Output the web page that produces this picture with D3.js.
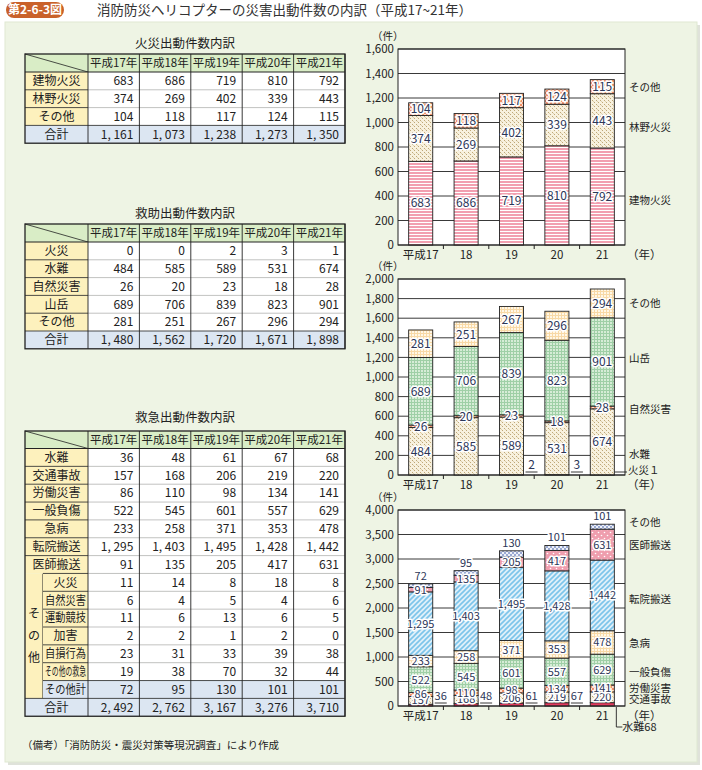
<!DOCTYPE html>
<html lang="ja">
<head>
<meta charset="UTF-8">
<title>消防防災ヘリコプターの災害出動件数の内訳</title>
<script src="https://cdn.jsdelivr.net/npm/d3@7"></script>
<style>
  body { margin: 0; background: #fff; }
  svg text { font-family: "Noto Sans CJK JP", "Noto Sans", sans-serif; fill: #222; }
  .tick { font-size: 11.5px; }
  .seg { font-size: 12px; fill: #2c3658; stroke: #fff; stroke-width: 3px; paint-order: stroke; stroke-linejoin: round; }
  .leg { font-size: 10.5px; }
  .cell { font-size: 12px; }
  .ttl { font-size: 12.5px; }
</style>
</head>
<body>
<script>
// 年
var years = ["平成17", "18", "19", "20", "21"];
var tableYears = ["平成17年", "平成18年", "平成19年", "平成20年", "平成21年"];

// 火災出動件数内訳
var fireBuilding = [683, 686, 719, 810, 792];
var fireForest = [374, 269, 402, 339, 443];
var fireOther = [104, 118, 117, 124, 115];
var fireTotal = [1161, 1073, 1238, 1273, 1350];

// 救助出動件数内訳
var rescueFire = [0, 0, 2, 3, 1];
var rescueWater = [484, 585, 589, 531, 674];
var rescueNatural = [26, 20, 23, 18, 28];
var rescueMountain = [689, 706, 839, 823, 901];
var rescueOther = [281, 251, 267, 296, 294];
var rescueTotal = [1480, 1562, 1720, 1671, 1898];

// 救急出動件数内訳
var emWater = [36, 48, 61, 67, 68];
var emTraffic = [157, 168, 206, 219, 220];
var emLabor = [86, 110, 98, 134, 141];
var emInjury = [522, 545, 601, 557, 629];
var emIllness = [233, 258, 371, 353, 478];
var emTransfer = [1295, 1403, 1495, 1428, 1442];
var emDoctor = [91, 135, 205, 417, 631];
var emOtherFire = [11, 14, 8, 18, 8];
var emOtherNatural = [6, 4, 5, 4, 6];
var emOtherSports = [11, 6, 13, 6, 5];
var emOtherAssault = [2, 2, 1, 2, 0];
var emOtherSelf = [23, 31, 33, 39, 38];
var emOtherMisc = [19, 38, 70, 32, 44];
var emOtherTotal = [72, 95, 130, 101, 101];
var emTotal = [2492, 2762, 3167, 3276, 3710];

var width = 702, height = 770;
var svg = d3.select("body").append("svg").attr("width", width).attr("height", height);
var defs = svg.append("defs");

//模様
function pattern(id, w, h, bg, draw) {
  var p = defs.append("pattern").attr("id", id).attr("patternUnits", "userSpaceOnUse")
    .attr("width", w).attr("height", h);
  p.append("rect").attr("width", w).attr("height", h).attr("fill", bg);
  draw(p);
}
pattern("pinkStripe", 4, 3, "#f29fb0", function(p) {
  p.append("rect").attr("y", 0).attr("width", 4).attr("height", 1).attr("fill", "#fff");
});
pattern("tanDots", 4, 4, "#f8f1de", function(p) {
  p.append("rect").attr("x", 0).attr("y", 0).attr("width", 1).attr("height", 1).attr("fill", "#bfa878");
  p.append("rect").attr("x", 2).attr("y", 2).attr("width", 1).attr("height", 1).attr("fill", "#bfa878");
  p.append("rect").attr("x", 1).attr("y", 1).attr("width", 1).attr("height", 1).attr("fill", "#ddd0ae");
});
pattern("salmonCheck", 4, 4, "#fbe0d0", function(p) {
  p.append("rect").attr("width", 2).attr("height", 2).attr("fill", "#f08f68");
  p.append("rect").attr("x", 2).attr("y", 2).attr("width", 2).attr("height", 2).attr("fill", "#f08f68");
});
pattern("greenGrid", 3, 3, "#d6ecd6", function(p) {
  p.append("rect").attr("width", 3).attr("height", 1).attr("fill", "#9fcfa6");
  p.append("rect").attr("width", 1).attr("height", 3).attr("fill", "#9fcfa6");
});
pattern("creamGrid", 3, 3, "#fff7e6", function(p) {
  p.append("rect").attr("width", 3).attr("height", 1).attr("fill", "#f8d9a6");
  p.append("rect").attr("width", 1).attr("height", 3).attr("fill", "#f8d9a6");
});
pattern("blueDiag", 5, 5, "#dff0fa", function(p) {
  p.append("path").attr("d", "M-1,1 L1,-1 M0,5 L5,0 M4,6 L6,4").attr("stroke", "#7cc4ea").attr("stroke-width", 1.6);
});
pattern("pinkDots", 6, 6, "#ef9eae", function(p) {
  p.append("circle").attr("cx", 1.5).attr("cy", 1.5).attr("r", 0.8).attr("fill", "#fff");
  p.append("circle").attr("cx", 4.5).attr("cy", 4.5).attr("r", 0.8).attr("fill", "#fff");
});
pattern("blueCheck", 4, 4, "#eef1f8", function(p) {
  p.append("rect").attr("width", 2).attr("height", 2).attr("fill", "#9aa9d3");
  p.append("rect").attr("x", 2).attr("y", 2).attr("width", 2).attr("height", 2).attr("fill", "#9aa9d3");
});

//見出し
svg.append("rect").attr("x", 6).attr("y", 2).attr("width", 58).attr("height", 16).attr("rx", 8)
  .attr("fill", "#c9612a");
svg.append("text").attr("x", 35).attr("y", 10).attr("dy", "0.36em").attr("text-anchor", "middle")
  .style("fill", "#fff").style("font-size", "12px").style("font-weight", "bold").text("第2-6-3図");
svg.append("text").attr("x", 97).attr("y", 10).attr("dy", "0.36em")
  .style("font-size", "13.5px").style("fill", "#333")
  .text("消防防災ヘリコプターの災害出動件数の内訳（平成17~21年）");

//背景
svg.append("rect").attr("x", 8).attr("y", 25).attr("width", 692).attr("height", 740).attr("fill", "#dfe2da");
svg.append("rect").attr("x", 5).attr("y", 22).attr("width", 692).attr("height", 740).attr("fill", "#eef4e4")
  .attr("stroke", "#dfe8d2");

//表
var fmtT = function(v) { return d3.format(",")(v).replace(",", ", "); };

function drawTable(opt) {
  var g = svg.append("g");
  var x0 = 25, labelW = 63, colW = 51.4, right = x0 + labelW + 5 * colW;
  var colX = function(i) { return x0 + labelW + i * colW; };
  var hh = opt.headerH, rh = opt.rowH, top = opt.top;
  var bottom = top + hh + opt.rows.length * rh;

  g.append("text").attr("class", "ttl").attr("x", (x0 + right) / 2).attr("y", opt.titleY)
    .attr("dy", "0.36em").attr("text-anchor", "middle").text(opt.title);

  g.append("rect").attr("x", x0).attr("y", top).attr("width", right - x0).attr("height", hh).attr("fill", "#d9edc6");
  tableYears.forEach(function(t, i) {
    g.append("text").attr("class", "cell").attr("x", colX(i) + colW / 2).attr("y", top + hh / 2)
      .attr("dy", "0.36em").attr("text-anchor", "middle").style("font-size", "11.5px").text(t);
  });
  g.append("line").attr("x1", x0).attr("y1", top).attr("x2", x0 + labelW).attr("y2", top + hh)
    .attr("stroke", "#222").attr("stroke-width", 0.8);

  if (opt.group) {
    var gy0 = top + hh + opt.group.from * rh, gy1 = top + hh + (opt.group.to + 1) * rh;
    g.append("rect").attr("x", x0).attr("y", gy0).attr("width", 18).attr("height", gy1 - gy0).attr("fill", "#fdf1bd");
    opt.group.label.split("").forEach(function(ch, k) {
      g.append("text").attr("class", "cell").attr("x", x0 + 9).attr("y", (gy0 + gy1) / 2 + (k - 1) * 22)
        .attr("dy", "0.36em").attr("text-anchor", "middle").text(ch);
    });
    g.append("line").attr("x1", x0 + 18).attr("x2", x0 + 18).attr("y1", gy0).attr("y2", gy1).attr("stroke", "#222");
  }

  opt.rows.forEach(function(r, j) {
    var ry = top + hh + j * rh;
    var lx = r.sub ? x0 + 18 : x0;
    var fill = r.total ? "#dce6f2" : "#fff";
    g.append("rect").attr("x", lx).attr("y", ry).attr("width", x0 + labelW - lx).attr("height", rh)
      .attr("fill", r.total ? "#dce6f2" : "#fdf1bd");
    g.append("rect").attr("x", x0 + labelW).attr("y", ry).attr("width", right - x0 - labelW).attr("height", rh)
      .attr("fill", fill);
    var lt = g.append("text").attr("class", "cell").attr("x", (lx + x0 + labelW) / 2).attr("y", ry + rh / 2)
      .attr("dy", "0.36em").attr("text-anchor", "middle").text(r.label);
    if (r.fit) lt.attr("textLength", r.fit).attr("lengthAdjust", "spacingAndGlyphs");
    r.values.forEach(function(v, i) {
      g.append("text").attr("class", "cell").attr("x", colX(i + 1) - 6).attr("y", ry + rh / 2)
        .attr("dy", "0.36em").attr("text-anchor", "end").text(fmtT(v));
    });
    if (j > 0) {
      g.append("line").attr("x1", lx).attr("x2", x0 + labelW).attr("y1", ry).attr("y2", ry).attr("stroke", "#222").attr("stroke-width", 0.8);
      g.append("line").attr("x1", x0 + labelW).attr("x2", right).attr("y1", ry).attr("y2", ry)
        .attr("stroke", r.total ? "#222" : "#9a9a9a").attr("stroke-width", r.total ? 0.8 : 0.6);
    }
  });

  g.append("line").attr("x1", x0).attr("x2", right).attr("y1", top + hh).attr("y2", top + hh).attr("stroke", "#222");
  for (var i = 0; i <= 5; i++) {
    g.append("line").attr("x1", colX(i)).attr("x2", colX(i)).attr("y1", top).attr("y2", bottom)
      .attr("stroke", "#222").attr("stroke-width", 0.9);
  }
  g.append("rect").attr("x", x0).attr("y", top).attr("width", right - x0).attr("height", bottom - top)
    .attr("fill", "none").attr("stroke", "#222").attr("stroke-width", 1.3);
}

drawTable({
  title: "火災出動件数内訳", titleY: 43, top: 54, headerH: 18, rowH: 17.8,
  rows: [
    { label: "建物火災", values: fireBuilding },
    { label: "林野火災", values: fireForest },
    { label: "その他", values: fireOther },
    { label: "合計", values: fireTotal, total: true }
  ]
});

drawTable({
  title: "救助出動件数内訳", titleY: 213, top: 224, headerH: 18, rowH: 17.8,
  rows: [
    { label: "火災", values: rescueFire },
    { label: "水難", values: rescueWater },
    { label: "自然災害", values: rescueNatural },
    { label: "山岳", values: rescueMountain },
    { label: "その他", values: rescueOther },
    { label: "合計", values: rescueTotal, total: true }
  ]
});

drawTable({
  title: "救急出動件数内訳", titleY: 417, top: 431, headerH: 17.5, rowH: 17.85,
  group: { from: 7, to: 13, label: "その他" },
  rows: [
    { label: "水難", values: emWater },
    { label: "交通事故", values: emTraffic },
    { label: "労働災害", values: emLabor },
    { label: "一般負傷", values: emInjury },
    { label: "急病", values: emIllness },
    { label: "転院搬送", values: emTransfer },
    { label: "医師搬送", values: emDoctor },
    { label: "火災", values: emOtherFire, sub: true },
    { label: "自然災害", values: emOtherNatural, sub: true, fit: 41 },
    { label: "運動競技", values: emOtherSports, sub: true, fit: 41 },
    { label: "加害", values: emOtherAssault, sub: true },
    { label: "自損行為", values: emOtherSelf, sub: true, fit: 41 },
    { label: "その他の救急", values: emOtherMisc, sub: true, fit: 41 },
    { label: "その他計", values: emOtherTotal, sub: true, total: true, fit: 41 },
    { label: "合計", values: emTotal, total: true }
  ]
});

//グラフ
function drawChart(c) {
  var g = svg.append("g");
  var x = d3.scaleBand().domain(years).range([398, 625]).paddingInner(0.47).paddingOuter(0.235);
  var y = d3.scaleLinear().domain([0, c.max]).range([c.bottom, c.top]);
  var bw = x.bandwidth();
  var segSize = c.segSize || "12px";

  g.append("rect").attr("x", 398).attr("y", c.top).attr("width", 227).attr("height", c.bottom - c.top).attr("fill", "#fff");
  var ticks = d3.range(0, c.max + 1, c.step);
  g.selectAll(".grid").data(ticks).enter().append("line")
    .attr("x1", 398).attr("x2", 625).attr("y1", function(d) { return y(d); }).attr("y2", function(d) { return y(d); })
    .attr("stroke", "#222").attr("stroke-width", 0.9);
  g.selectAll(".tl").data(ticks).enter().append("text").attr("class", "tick")
    .attr("x", 394).attr("y", function(d) { return y(d); }).attr("dy", "0.36em").attr("text-anchor", "end")
    .text(d3.format(","));
  g.append("text").attr("class", "leg").attr("x", 372).attr("y", c.top - 13).attr("dy", "0.36em").text("（件）");

  // x軸
  years.forEach(function(yr, i) {
    g.append("text").attr("class", "tick").attr("x", x(yr) + bw / 2).attr("y", c.bottom + 10)
      .attr("dy", "0.36em").attr("text-anchor", "middle").text(yr);
    if (i > 0) {
      var bx = x(yr) - x.step() * x.paddingInner() / 2;
      g.append("line").attr("x1", bx).attr("x2", bx).attr("y1", c.bottom).attr("y2", c.bottom + 4).attr("stroke", "#222");
    }
  });
  g.append("text").attr("class", "tick").attr("x", 627).attr("y", c.bottom + 10).attr("dy", "0.36em").text("（年）");

  var rows = years.map(function(yr, i) {
    var o = { year: yr };
    c.series.forEach(function(s) { o[s.name] = s.values[i]; });
    return o;
  });
  var stack = d3.stack().keys(c.series.map(function(s) { return s.name; }))(rows);

  stack.forEach(function(layer, k) {
    var s = c.series[k];
    g.selectAll(null).data(layer).enter().append("rect")
      .attr("x", function(d) { return x(d.data.year); })
      .attr("y", function(d) { return y(d[1]); })
      .attr("width", bw)
      .attr("height", function(d) { return y(d[0]) - y(d[1]); })
      .attr("fill", s.fill).attr("stroke", "#222").attr("stroke-width", 0.9);
  });

  stack.forEach(function(layer, k) {
    var s = c.series[k];
    if (s.small) return;
    g.selectAll(null).data(layer).enter().append("text").attr("class", "seg").style("font-size", segSize)
      .attr("x", function(d) { return x(d.data.year) + bw / 2; })
      .attr("y", function(d) { return s.above ? y(d[1]) - 8 : y((d[0] + d[1]) / 2); })
      .attr("dy", "0.36em").attr("text-anchor", "middle")
      .text(function(d) { return d3.format(",")(d[1] - d[0]); });
  });

  // 小さい値
  var sm = c.series.filter(function(s) { return s.small; })[0];
  if (sm) {
    sm.values.forEach(function(v, i) {
      var bx = x(years[i]) + bw;
      if (i === 4) {
        if (c.lastBelow) {
          g.append("path").attr("d", "M" + (bx + 2) + "," + (c.bottom + 1) + "V" + (c.bottom + 21) + "h6")
            .attr("fill", "none").attr("stroke", "#222").attr("stroke-width", 0.9);
          g.append("text").attr("class", "leg").attr("x", bx + 8).attr("y", c.bottom + 21).attr("dy", "0.36em")
            .style("font-size", "11px").text(sm.name + v);
        } else {
          g.append("line").attr("x1", bx).attr("x2", 627).attr("y1", c.bottom - 3).attr("y2", c.bottom - 3)
            .attr("stroke", "#222").attr("stroke-width", 0.9);
          g.append("text").attr("class", "leg").attr("x", 628).attr("y", c.bottom - 5).attr("dy", "0.36em")
            .text(sm.name + "１");
        }
        return;
      }
      if (v === 0) return;
      g.append("line").attr("x1", bx + 2).attr("x2", bx + 14).attr("y1", c.bottom - 3).attr("y2", c.bottom - 3)
        .attr("stroke", "#222").attr("stroke-width", 0.9);
      g.append("text").attr("class", "seg").style("font-size", segSize).attr("x", bx + 8).attr("y", c.bottom - 10)
        .attr("dy", "0.36em").attr("text-anchor", "middle").text(v);
    });
  }

  g.append("rect").attr("x", 398).attr("y", c.top).attr("width", 227).attr("height", c.bottom - c.top)
    .attr("fill", "none").attr("stroke", "#222").attr("stroke-width", 1);

  c.legend.forEach(function(l) {
    g.append("text").attr("class", "leg").attr("x", 629).attr("y", y(l[1])).attr("dy", "0.36em").text(l[0]);
  });
}

drawChart({
  top: 49, bottom: 245, max: 1600, step: 200,
  series: [
    { name: "建物火災", values: fireBuilding, fill: "url(#pinkStripe)" },
    { name: "林野火災", values: fireForest, fill: "url(#tanDots)" },
    { name: "その他", values: fireOther, fill: "url(#salmonCheck)" }
  ],
  legend: [["その他", 1292], ["林野火災", 962], ["建物火災", 368]]
});

drawChart({
  top: 279, bottom: 475, max: 2000, step: 200,
  series: [
    { name: "火災", values: rescueFire, fill: "#f08f68", small: true },
    { name: "水難", values: rescueWater, fill: "url(#tanDots)" },
    { name: "自然災害", values: rescueNatural, fill: "url(#salmonCheck)" },
    { name: "山岳", values: rescueMountain, fill: "url(#greenGrid)" },
    { name: "その他", values: rescueOther, fill: "url(#creamGrid)" }
  ],
  legend: [["その他", 1750], ["山岳", 1194], ["自然災害", 673], ["水難", 214]]
});

drawChart({
  top: 510, bottom: 706, max: 4000, step: 500, lastBelow: true, segSize: "11px",
  series: [
    { name: "水難", values: emWater, fill: "#e23a5e", small: true },
    { name: "交通事故", values: emTraffic, fill: "url(#tanDots)" },
    { name: "労働災害", values: emLabor, fill: "url(#salmonCheck)" },
    { name: "一般負傷", values: emInjury, fill: "url(#greenGrid)" },
    { name: "急病", values: emIllness, fill: "url(#creamGrid)" },
    { name: "転院搬送", values: emTransfer, fill: "url(#blueDiag)" },
    { name: "医師搬送", values: emDoctor, fill: "url(#pinkDots)" },
    { name: "その他", values: emOtherTotal, fill: "url(#blueCheck)", above: true }
  ],
  legend: [["その他", 3755], ["医師搬送", 3286], ["転院搬送", 2184], ["急病", 1286],
           ["一般負傷", 694], ["労働災害", 367], ["交通事故", 143]]
});

//備考
svg.append("text").attr("x", 22).attr("y", 745).attr("dy", "0.36em").style("font-size", "10.5px")
  .text("（備考）「消防防災・震災対策等現況調査」により作成");
</script>
</body>
</html>
